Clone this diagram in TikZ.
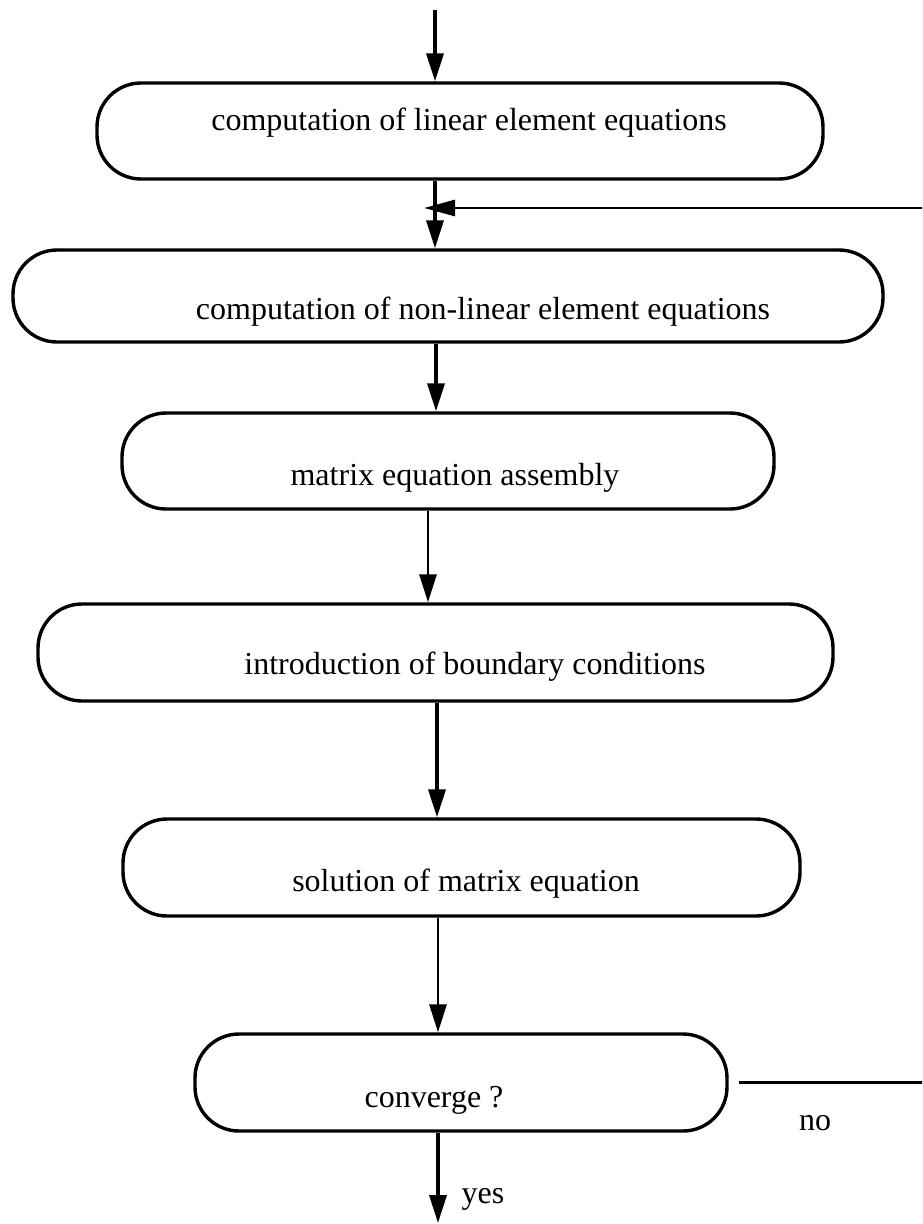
\documentclass[tikz,border=0pt]{standalone}
\usepackage{fontspec}
\setmainfont{Liberation Serif}
\usetikzlibrary{arrows.meta}
\begin{document}
\begin{tikzpicture}[x=1pt,y=-1pt,
  stage/.style={draw, line width=3.4pt, rounded corners=44pt, inner sep=0pt,
    minimum width=#1, minimum height=96pt},
  lbl/.style={anchor=base, inner sep=0pt, font=\fontsize{32}{38}\selectfont},
  flow/.style={line width=3.6pt, -{Triangle[length=28pt,width=17pt]}},
  flowthin/.style={line width=2.8pt, -{Triangle[length=28pt,width=17pt]}},
  loopline/.style={line width=2.8pt}]
  \useasboundingbox (0,0) rectangle (922,1224);
  \fill[white] (0,0) rectangle (922,1224);
  \clip (0,0) rectangle (922,1224);

  % process stages
  \node[stage=726pt] (b1) at (460,131) {};
  \node[stage=870pt, minimum height=92pt] (b2) at (448,296) {};
  \node[stage=652pt] (b3) at (448,461) {};
  \node[stage=795pt, minimum height=97pt] (b4) at (435.5,652.5) {};
  \node[stage=677pt, minimum height=97pt] (b5) at (461.5,867.5) {};
  \node[stage=532pt, minimum height=97pt] (b6) at (461,1082.5) {};

  % stage texts
  \node[lbl] (t1) at (469,130) {computation of linear element equations};
  \node[lbl] (t2) at (483,319) {computation of non-linear element equations};
  \node[lbl] (t3) at (455,485) {matrix equation assembly};
  \node[lbl] (t4) at (475,674) {introduction of boundary conditions};
  \node[lbl] (t5) at (466,891) {solution of matrix equation};
  \node[lbl] (t6) at (434,1107) {converge ?};
  \node[lbl] (tno) at (815,1130) {no};
  \node[lbl] (tyes) at (483,1203) {yes};

  % columns of the vertical connectors
  \coordinate (start) at (435,10);
  \coordinate (x1) at (435,0);
  \coordinate (x2) at (436,0);
  \coordinate (x3) at (428,0);
  \coordinate (x4) at (437,0);
  \coordinate (x5) at (438,0);
  \coordinate (finish) at (438,1223);

  \draw[flow] (start) -- (b1.north -| x1);
  \draw[flow] (b1.south -| x1) -- (b2.north -| x1);
  \draw[flow] (b2.south -| x2) -- (b3.north -| x2);
  \draw[flowthin] (b3.south -| x3) -- (b4.north -| x3);
  \draw[flow] (b4.south -| x4) -- (b5.north -| x4);
  \draw[flowthin] (b5.south -| x5) -- (b6.north -| x5);
  \draw[flow] (b6.south -| x5) -- (finish);

  % iteration loop back to the non-linear stage
  \coordinate (fb) at (424,208);
  \coordinate (loopR) at (960,0);
  \draw[loopline, -{Triangle[length=31pt,width=16pt]}]
    ([xshift=10pt]b6.east) -- (b6.east -| loopR) -- (loopR |- fb) -- (fb);
\end{tikzpicture}
\end{document}
